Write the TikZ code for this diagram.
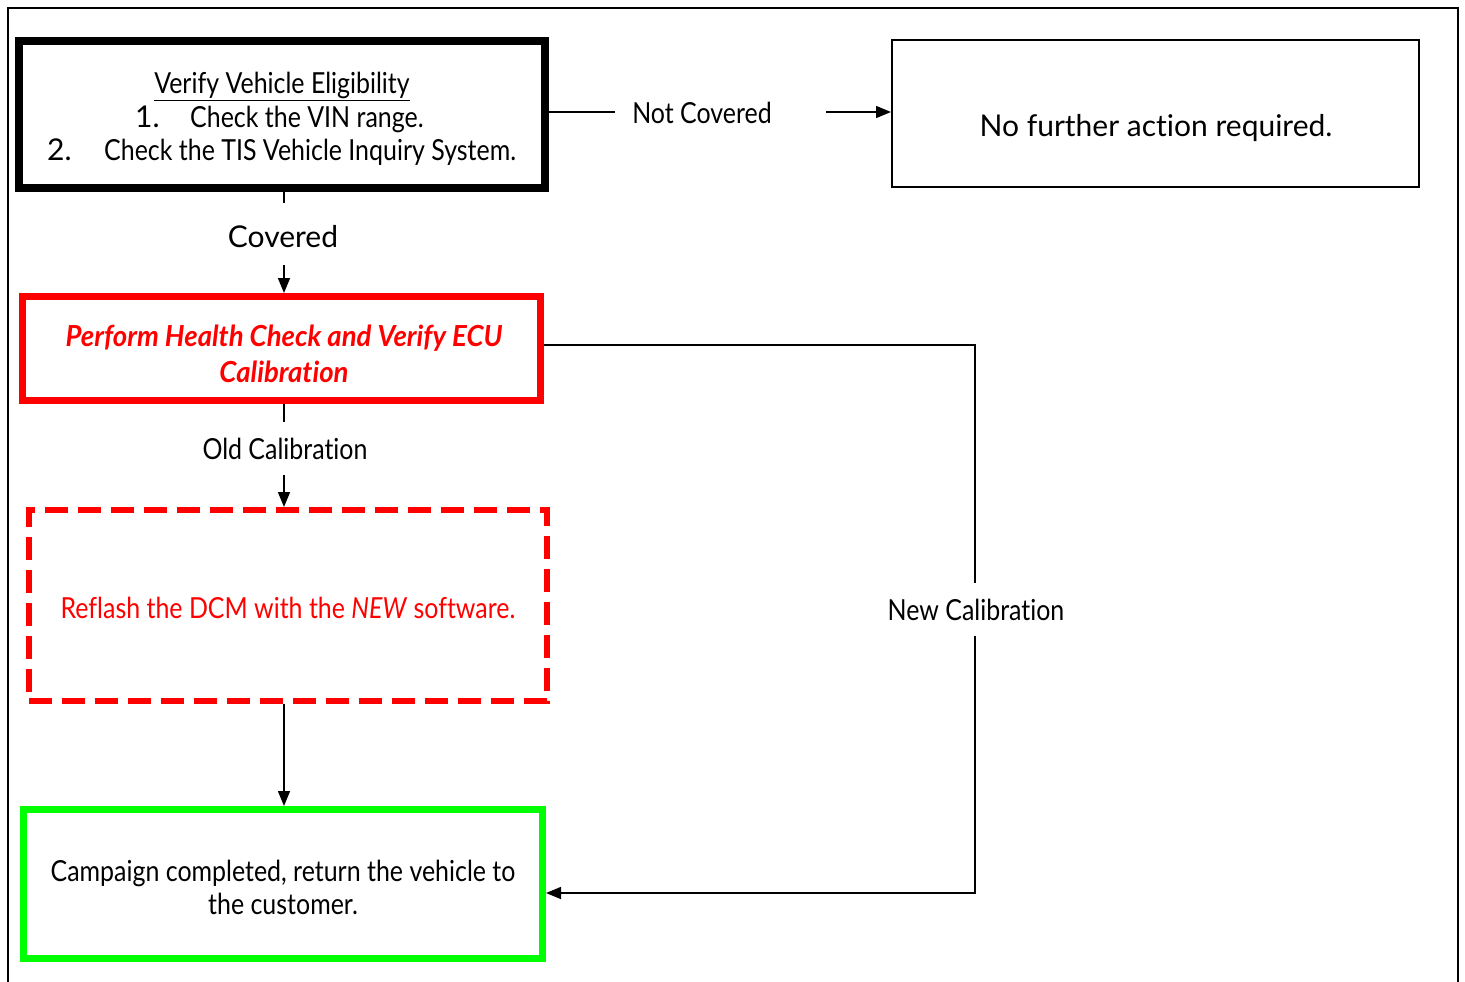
\documentclass[tikz,border=0pt]{standalone}
\usepackage{fontspec}
\setmainfont{Lato}[Ligatures=NoCommon]
\newfontfamily\cond{Lato}[FakeStretch=0.86,Ligatures=NoCommon]
\newfontfamily\condbi{Lato}[FakeStretch=0.95,Ligatures=NoCommon]
\usetikzlibrary{arrows.meta}
\definecolor{pred}{RGB}{255,0,0}
\definecolor{pgreen}{RGB}{0,255,0}
\begin{document}
\begin{tikzpicture}[x=1pt,y=-1pt,
  box/.style={draw, rectangle, inner sep=0pt},
  txt/.style={inner sep=0pt, font=\cond\fontsize{29}{33}\selectfont},
  wtxt/.style={inner sep=0pt, font=\fontsize{30}{34}\selectfont},
  bitxt/.style={inner sep=0pt, text=pred, font=\condbi\fontsize{29}{33}\selectfont\bfseries\itshape},
  conn/.style={line width=1.5pt},
  arr/.style={line width=1.5pt, -{Triangle[length=15pt,width=12pt]}}
]
\useasboundingbox (0,0) rectangle (1465,982);
% outer frame
\draw[line width=2pt] (8,990) -- (8,8) -- (1458,8) -- (1458,990);

% boxes
\node[box, line width=8pt, minimum width=526pt, minimum height=147pt] (b1) at (282,114.5) {};
\node[box, line width=2pt, minimum width=527pt, minimum height=147pt] (b2) at (1155.5,113.5) {};
\node[box, draw=pred, line width=7pt, minimum width=518pt, minimum height=104pt] (b3) at (281.5,348.5) {};
\node[box, draw=pred, line width=6pt, dash pattern=on 23pt off 10pt, minimum width=518pt, minimum height=191pt] (b4) at (288,605.5) {};
\node[box, draw=pgreen, line width=7pt, minimum width=519pt, minimum height=149pt] (b5) at (283,884) {};

% box 1 text
\node[txt, anchor=base] (t1a) at (282,94) {\underline{Verify Vehicle Eligibility}};
\node[wtxt, anchor=base west] (t1bn) at (135,127) {1.};
\node[txt, anchor=base west] (t1b) at (190,127) {Check the VIN range.};
\node[wtxt, anchor=base west] (t1cn) at (47,160) {2.};
\node[txt, anchor=base west] (t1c) at (104,160) {Check the TIS Vehicle Inquiry System.};

% box 2 text
\node[wtxt, anchor=base] (t2) at (1156,136) {No further action required.};

% box 3 text
\node[bitxt, anchor=base] (t3a) at (284,346) {Perform Health Check and Verify ECU};
\node[bitxt, anchor=base] (t3b) at (284,382) {Calibration};

% box 4 text
\node[txt, anchor=base, text=pred] (t4) at (288,618) {Reflash the DCM with the \textit{NEW} software.};

% box 5 text
\node[txt, anchor=base] (t5a) at (283,881) {Campaign completed, return the vehicle to};
\node[txt, anchor=base] (t5b) at (283,914) {the customer.};

% labels
\node[txt, anchor=base] (lnc) at (702,123) {Not Covered};
\node[wtxt, anchor=base] (lcov) at (283,247) {Covered};
\node[txt, anchor=base] (lold) at (285,459) {Old Calibration};
\node[txt, anchor=base] (lnew) at (976,620) {New Calibration};

% helper coordinates
\coordinate (nc1) at (615,112);
\coordinate (nc2) at (826,112);
\coordinate (cv1) at (284,203);
\coordinate (cv2) at (284,265);
\coordinate (od1) at (284,422);
\coordinate (od2) at (284,475);
\coordinate (nw0) at (975,345);
\coordinate (nw1) at (975,583);
\coordinate (nw2) at (975,636);
\coordinate (nw3) at (975,893);

% connectors
\draw[conn] (b1.east |- nc1) -- (nc1);
\draw[arr] (nc2) -- (b2.west |- nc2);
\draw[conn] (b1.south -| cv1) -- (cv1);
\draw[arr] (cv2) -- (b3.north -| cv2);
\draw[conn] (b3.south -| od1) -- (od1);
\draw[arr] (od2) -- (b4.north -| od2);
\draw[arr] (b4.south -| od2) -- (b5.north -| od2);
\draw[conn] (b3.east |- nw0) -- (nw0) -- (nw1);
\draw[arr] (nw2) -- (nw3) -- (b5.east |- nw3);
\end{tikzpicture}
\end{document}
